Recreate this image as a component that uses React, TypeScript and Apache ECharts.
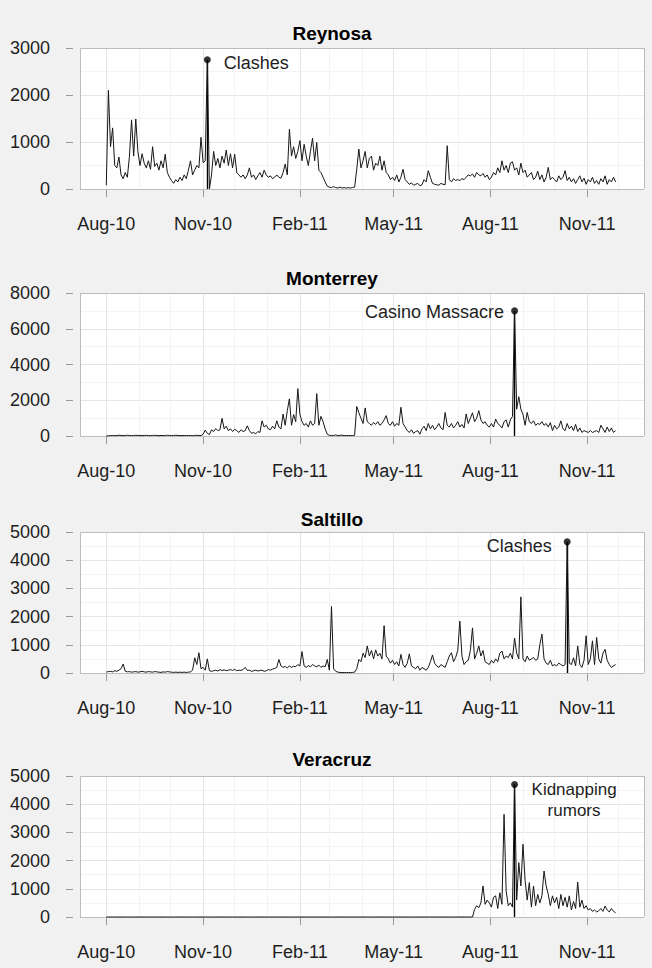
import React, { useEffect, useRef } from "react";
import * as echarts from "echarts";

// ---------- data ----------
const START_DATE = "2010-08-01"; // first value of every series
const STEP_DAYS = 2; // one value every 2 days

const CITIES = ["Reynosa", "Monterrey", "Saltillo", "Veracruz"];

const REYNOSA = [
  80, 2100, 900, 1300, 500, 450, 680, 300, 220, 350,
  250, 700, 1470, 700, 1490, 800, 500, 750, 550, 450,
  600, 420, 900, 480, 550, 400, 600, 450, 740, 350,
  250, 180, 120, 200, 150, 250, 180, 300, 220, 400,
  600, 300, 400, 500, 450, 1100, 560, 600, 2750, 0,
  300, 800, 500, 650, 450, 700, 550, 830, 500, 750,
  450, 740, 350, 300, 250, 300, 220, 300, 450, 250,
  300, 200, 280, 350, 250, 400, 300, 250, 280, 220,
  250,
  300, 250, 230, 350, 530, 300, 1270, 700, 900, 650,
  800, 1030, 600, 950, 700, 500, 800, 1080, 600, 990,
  400, 350, 250, 150, 60, 40, 30, 50, 30, 20,
  40, 20, 30, 20, 30, 20, 30, 40, 420, 850,
  450, 600, 800, 450, 650, 700, 400, 550, 500, 700,
  400, 600, 350, 300, 200, 250, 180, 300, 150, 250,
  420, 200, 150, 100, 130, 80, 100, 120, 70, 90,
  200, 150, 390, 250, 120, 100, 90, 80, 120, 100, 90,
  920, 200, 150, 220, 180, 200, 180, 220, 200, 250,
  300, 280, 320, 250, 350, 300, 280, 330, 250, 300,
  200, 250, 350, 300, 450, 350, 600, 400, 500, 350,
  550, 580, 400, 450, 300, 550, 350, 400, 250, 300,
  350, 200, 250, 380, 200, 300, 150, 250, 460, 200,
  250, 200, 150, 280, 200, 250, 390, 180, 250, 150, 220,
  120, 200, 280, 150, 230, 100, 200, 150, 250, 120,
  180, 100, 220, 150, 280, 100, 200, 150, 250, 150,
];

const MONTERREY = [
  0, 10, 20, 30, 20, 30, 40, 30, 20, 30,
  40, 30, 20, 30, 40, 30, 30, 20, 30, 40,
  30, 20, 30, 40, 30, 20, 30, 20, 30, 40,
  30, 20, 30, 40, 30, 20, 30, 20, 30, 20,
  30, 20, 30, 40, 30, 20, 100, 330, 150, 80,
  350, 250, 420, 300, 350, 990, 400, 550, 300, 400,
  250, 380, 300, 200, 350, 250, 300, 570, 300, 150,
  200, 120, 250, 200, 850, 500, 600, 400, 350, 550,
  400, 850, 500, 400, 1230, 600, 1420, 2080, 600, 1200,
  800, 2650, 1200, 800, 600, 700, 500, 850, 600, 700,
  2370, 600, 1100, 800, 400, 100, 40, 20, 30, 60,
  20, 30, 50, 20, 30, 20, 30, 20, 40, 1650,
  1300, 1000, 700, 1570, 800, 700, 600, 750, 650, 800,
  600, 700, 900, 1140, 700, 600, 800, 550, 700, 600,
  1610, 700, 500, 300, 200, 350, 150, 250, 300, 100,
  400, 550, 300, 700, 400, 600, 350, 500, 700, 450,
  350, 1320, 600, 500, 700, 450, 600, 800, 500, 650,
  450, 1230, 700, 1000, 1300, 800, 1000, 1420, 900, 700,
  800, 600, 500, 700, 500, 950, 700, 600, 450, 800,
  900, 500, 900, 1100, 7000, 1500, 2200, 1500, 1200, 600,
  1320, 800, 700, 850, 600, 700, 650, 800, 600, 700,
  500, 750, 300, 600, 400, 500, 850, 400, 300, 700,
  400, 550, 300, 650, 250, 450, 200, 300, 250, 200,
  300, 200, 250, 300, 200, 600, 400, 200, 500, 250,
  450, 200, 300,
];

const SALTILLO = [
  30, 50, 60, 40, 80, 60, 100, 150, 320, 60,
  40, 50, 30, 40, 50, 30, 40, 60, 40, 30,
  50, 40, 30, 50, 40, 30, 20, 40, 30, 50,
  40, 30, 20, 30, 20, 30, 20, 30, 20, 30,
  40, 100, 540, 300, 720, 150, 200, 100, 500, 80,
  60, 80, 100, 70, 120, 90, 110, 80, 100, 120,
  90, 130, 80, 100, 90, 120, 200, 90, 100, 60,
  80, 100, 70, 90, 100, 60, 80, 120, 100, 140,
  160, 200, 480, 250, 200, 230, 180, 250, 200, 240,
  220, 300, 250, 760, 250, 200, 260, 220, 300, 250,
  220, 280, 200, 250, 220, 480, 100, 2360, 150, 60,
  30, 20, 10, 20, 10, 20, 10, 20, 30, 150,
  480, 400, 700, 550, 960, 600, 800, 500, 820, 600,
  700, 500, 1680, 600, 500, 350, 450, 300, 400, 250,
  660, 300, 200, 350, 680, 250, 200, 150, 250, 100,
  200, 150, 100, 200, 400, 640, 350, 250, 200, 300,
  250, 200, 400, 600, 720, 400, 550, 800, 1840, 600,
  300, 400, 450, 800, 1600, 500, 700, 960, 600, 800,
  400, 350, 300, 450, 350, 500, 400, 700, 780, 500,
  600, 550, 700, 500, 1240, 700, 500, 2700, 500, 400,
  600, 450, 500, 550, 450, 500, 1000, 1380, 500, 350,
  300, 450, 250, 300, 250, 350, 300, 250, 300, 4650,
  350, 300, 540, 250, 960, 300, 200, 450, 1320, 300,
  500, 1140, 300, 1260, 500, 350, 700, 840, 450, 300,
  200, 250, 300,
];

const VERACRUZ = [
  0, 0, 0, 0, 0, 0, 0, 0, 0, 0,
  0, 0, 0, 0, 0, 0, 0, 0, 0, 0,
  0, 0, 0, 0, 0, 0, 0, 0, 0, 0,
  0, 0, 0, 0, 0, 0, 0, 0, 0, 0,
  0, 0, 0, 0, 0, 0, 0, 0, 0, 0,
  0, 0, 0, 0, 0, 0, 0, 0, 0, 0,
  0, 0, 0, 0, 0, 0, 0, 0, 0, 0,
  0, 0, 0, 0, 0, 0, 0, 0, 0, 0,
  0, 0, 0, 0, 0, 0, 0, 0, 0, 0,
  0, 0, 0, 0, 0, 0, 0, 0, 0, 0,
  0, 0, 0, 0, 0, 0, 0, 0, 0, 0,
  0, 0, 0, 0, 0, 0, 0, 0, 0, 0,
  0, 0, 0, 0, 0, 0, 0, 0, 0, 0,
  0, 0, 0, 0, 0, 0, 0, 0, 0, 0,
  0, 0, 0, 0, 0, 0, 0, 0, 0, 0,
  0, 0, 0, 0, 0, 0, 0, 0, 0, 0,
  0, 0, 0, 0, 0, 0, 0, 0, 0, 0,
  0, 0, 0, 0,
  0, 270, 400, 330, 500, 1100, 450, 600, 500, 350,
  700, 750, 300, 860, 450, 3640, 920, 400, 500, 350,
  4700, 600, 1930, 1100, 2580, 1300, 600, 1220, 350, 1100,
  400, 800, 500, 750, 1630, 1100, 800, 400, 750, 500,
  700, 300, 800, 400, 700, 350, 750, 250, 550, 300,
  1240, 350, 600, 300, 400, 250, 300, 200, 250, 180,
  220, 300, 200, 390, 250, 180, 300, 200, 150,
];

const SERIES_VALUES = [REYNOSA, MONTERREY, SALTILLO, VERACRUZ];

const Y_MAX = [3000, 8000, 5000, 5000];
const Y_INTERVAL = [1000, 2000, 1000, 1000];

const X_MIN_DATE = "2010-07-07";
const X_MAX_DATE = "2011-12-25";
const X_TICK_DATES = ["2010-08-01", "2010-11-01", "2011-02-01", "2011-05-01", "2011-08-01", "2011-11-01"];
const X_TICK_LABELS = ["Aug-10", "Nov-10", "Feb-11", "May-11", "Aug-11", "Nov-11"];
const X_MINOR_DATES = [
  "2010-09-01", "2010-10-01", "2010-12-01", "2011-01-01", "2011-03-01", "2011-04-01",
  "2011-06-01", "2011-07-01", "2011-09-01", "2011-10-01", "2011-12-01",
];

const ANNOT_DATES = ["2010-11-05", "2011-08-24", "2011-10-13", "2011-08-24"];
const ANNOT_LABELS = ["Clashes", "Casino Massacre", "Clashes", "Kidnapping\nrumors"];

// ---------- layout / style ----------
const GRID_TOPS = [48, 293, 532, 776];
const GRID_HEIGHTS = [141, 143, 141, 141];
const TITLE_Y = [33, 278, 519.5, 759];
const GRID_LEFT = 80;
const GRID_WIDTH = 564;
const FONT = "'Liberation Sans', Arial, Helvetica, sans-serif";
const BG = "#f1f1f1";
const MAJOR = "#e6e6e6";
const MINOR = "#f3f3f3";
const BORDER = "#bdbdbd";
const TICK = "#9a9a9a";
const TEXT = "#1e1e1e";

const LABEL_STYLES: any[] = [
  { position: "right", distance: 13, offset: [0, 3] },
  { position: "left", distance: 7, offset: [0, 1] },
  { position: "left", distance: 12, offset: [0, 4] },
  { position: "right", distance: 56, offset: [0, 16], align: "center", fontSize: 17, lineHeight: 21 },
];

const DAY = 86400000;
function ts(s: string) {
  const [y, m, d] = s.split("-").map(Number);
  return Date.UTC(y, m - 1, d);
}

export default function App() {
  const ref = useRef<HTMLDivElement>(null);

  useEffect(() => {
    document.body.style.margin = "0";
    document.body.style.background = BG;
    const chart = echarts.init(ref.current!, null, { renderer: "svg" });

    const start = ts(START_DATE);
    const xMin = ts(X_MIN_DATE);
    const xMax = ts(X_MAX_DATE);
    const tickTs = X_TICK_DATES.map(ts);
    const minorTs = X_MINOR_DATES.map(ts);
    const fmt = (v: number) => {
      const i = tickTs.findIndex((t) => Math.abs(t - v) < DAY / 2);
      return i >= 0 ? X_TICK_LABELS[i] : "";
    };

    const grids: any[] = [];
    const xAxes: any[] = [];
    const yAxes: any[] = [];
    const series: any[] = [];
    const graphics: any[] = [];

    CITIES.forEach((city, i) => {
      grids.push({
        left: GRID_LEFT,
        top: GRID_TOPS[i],
        width: GRID_WIDTH,
        height: GRID_HEIGHTS[i],
        show: true,
        backgroundColor: "#ffffff",
        borderWidth: 0,
        containLabel: false,
      });
      xAxes.push({
        type: "value", // date axis: values are UTC timestamps
        gridIndex: i,
        min: xMin,
        max: xMax,
        scale: true,
        offset: 6,
        axisLine: { show: false },
        axisTick: { show: true, length: 8, lineStyle: { color: TICK, width: 1 }, customValues: tickTs },
        axisLabel: {
          customValues: tickTs,
          formatter: (v: number) => fmt(v),
          margin: 20,
          fontSize: 18,
          fontFamily: FONT,
          color: TEXT,
        },
        splitLine: { show: false },
      });
      yAxes.push({
        type: "value",
        gridIndex: i,
        min: 0,
        max: Y_MAX[i],
        interval: Y_INTERVAL[i],
        offset: 7,
        axisLine: { show: false },
        axisTick: { show: true, length: 7, lineStyle: { color: TICK, width: 1 } },
        axisLabel: {
          margin: 23,
          fontSize: 18,
          fontFamily: FONT,
          color: TEXT,
          formatter: (v: number) => String(v),
        },
        splitLine: { show: true, lineStyle: { color: MAJOR, width: 1 } },
        minorTick: { show: false, splitNumber: 2 },
        minorSplitLine: { show: true, lineStyle: { color: MINOR, width: 1 } },
      });

      // gridlines + panel border (drawn from axis values)
      const vLine = (t: number, color: string) => ({ xAxis: t, lineStyle: { color, width: 1, type: "solid" } });
      const hLine = (v: number, color: string) => ({ yAxis: v, lineStyle: { color, width: 1, type: "solid" } });
      series.push({
        type: "line",
        name: city + " grid",
        xAxisIndex: i,
        yAxisIndex: i,
        data: [],
        silent: true,
        clip: false,
        z: 1,
        markLine: {
          silent: true,
          animation: false,
          symbol: ["none", "none"],
          label: { show: false },
          emphasis: { disabled: true },
          data: [
            ...minorTs.map((t) => vLine(t, MINOR)),
            ...tickTs.map((t) => vLine(t, MAJOR)),
            vLine(xMin, BORDER),
            vLine(xMax, BORDER),
            hLine(0, BORDER),
            hLine(Y_MAX[i], BORDER),
          ],
        },
      });

      const values = SERIES_VALUES[i];
      series.push({
        type: "line",
        name: city,
        xAxisIndex: i,
        yAxisIndex: i,
        data: values.map((v, k) => [start + k * STEP_DAYS * DAY, v]),
        showSymbol: false,
        symbol: "none",
        clip: false,
        z: 10,
        lineStyle: { color: "#161616", width: 1 },
        emphasis: { disabled: true },
        silent: true,
      });

      const at = ts(ANNOT_DATES[i]);
      const idx = Math.round((at - start) / (STEP_DAYS * DAY));
      const av = values[idx];
      series.push({
        type: "scatter",
        name: city + " event",
        xAxisIndex: i,
        yAxisIndex: i,
        data: [[at, av]],
        symbol: "circle",
        symbolSize: 7,
        z: 20,
        silent: true,
        itemStyle: { color: "#000000" },
        emphasis: { disabled: true },
        label: {
          show: true,
          formatter: ANNOT_LABELS[i],
          fontSize: 18,
          fontFamily: FONT,
          color: TEXT,
          opacity: 1,
          textBorderWidth: 0,
          ...LABEL_STYLES[i],
        },
        markLine: {
          silent: true,
          animation: false,
          symbol: ["none", "none"],
          label: { show: false },
          emphasis: { disabled: true },
          lineStyle: { color: "#000000", width: 1.4, type: "solid" },
          data: [[{ coord: [at, 0] }, { coord: [at, av] }]],
        },
      });

      graphics.push({
        type: "text",
        x: 332,
        y: TITLE_Y[i],
        silent: true,
        style: {
          text: city,
          align: "center",
          verticalAlign: "middle",
          fontSize: 19,
          fontWeight: "bold",
          fontFamily: FONT,
          fill: "#000000",
        },
      });
    });

    chart.setOption({
      animation: false,
      backgroundColor: BG,
      grid: grids,
      xAxis: xAxes,
      yAxis: yAxes,
      series,
      graphic: graphics,
    });

    return () => chart.dispose();
  }, []);

  return <div ref={ref} style={{ width: 652, height: 968 }} />;
}
